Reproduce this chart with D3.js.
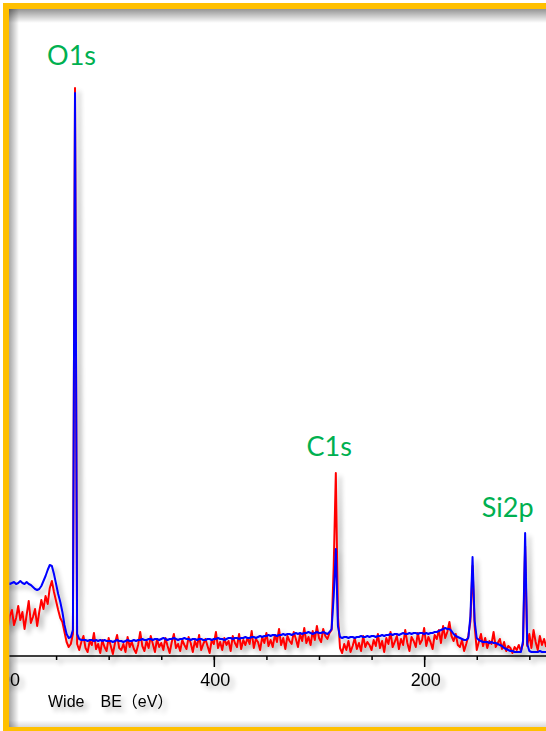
<!DOCTYPE html>
<html><head><meta charset="utf-8">
<script src="https://cdn.jsdelivr.net/npm/d3@7/dist/d3.min.js"></script>
<style>html,body{margin:0;padding:0;background:#fff;overflow:hidden}</style>
</head><body><div id="chart"></div>
<script>
// Binding energy grid (eV), descending
const beStart = 606, beStep = 2;
// Red spectrum intensities (arb. units), rows of 10 points
const redCounts = [
  42,30,48,35,52,28,40,46,31,38,
  50,36,44,27,41,55,33,39,47,30,
  44,56,47,60,52,68,75,64,55,46,
  38,34,24,14,9,12,22,568,12,6,
  14,20,8,4,15,11,23,7,12,3,
  16,9,5,18,10,2,13,21,8,6,
  12,4,19,9,14,7,3,11,24,10,
  5,15,8,20,12,4,17,9,13,6,
  18,10,3,14,22,8,12,5,16,11,
  7,19,13,4,15,9,21,6,12,17,
  10,3,16,12,24,8,14,6,18,11,
  15,5,20,13,9,22,7,16,11,18,
  12,25,8,17,14,6,19,13,23,10,
  16,9,21,14,27,11,18,7,20,15,
  12,24,17,9,22,15,28,13,19,11,
  25,16,30,18,14,27,20,17,23,26,
  90,183,40,8,3,12,6,15,4,10,
  18,7,13,5,20,9,14,11,6,16,
  10,22,8,15,4,18,12,24,9,14,
  20,7,17,11,26,13,5,19,15,9,
  23,12,16,28,10,19,14,7,21,17,
  26,13,30,18,24,34,20,15,22,11,
  9,16,5,12,20,35,90,30,6,14,
  22,10,18,8,15,12,24,9,13,17,
  7,14,5,10,8,3,9,6,11,5,
  12,110,10,22,8,26,14,6,20,11,
  17,9
];
// Blue spectrum intensities (arb. units), rows of 10 points
const blueCounts = [
  73,73,72,73,74,73,72,73,74,72,
  73,75,73,72,74,72,71,69,67,66,
  67,70,75,80,86,91,90,82,72,62,
  54,44,31,22,18,19,26,563,22,17,
  16,16,16,15,16,16,15,16,15,16,
  15,16,15,15,15,14,15,16,15,15,
  14,15,16,15,15,16,15,16,16,17,
  16,16,17,17,16,17,17,16,17,18,
  17,16,17,17,18,17,16,17,17,18,
  17,17,16,17,17,16,17,17,16,16,
  17,17,16,17,17,18,17,17,16,17,
  18,18,17,18,18,17,18,18,19,18,
  18,19,19,18,19,20,19,20,20,21,
  20,21,21,20,21,21,22,21,22,22,
  21,22,23,22,23,22,23,23,24,23,
  22,23,24,23,23,24,23,22,24,27,
  60,107,30,19,18,19,19,18,19,19,
  18,19,19,20,19,19,20,19,20,20,
  19,20,20,21,20,21,21,22,21,22,
  22,21,22,23,22,22,23,22,23,23,
  22,23,23,22,23,22,23,23,24,24,
  25,26,27,28,27,27,25,22,20,19,
  18,17,16,16,18,40,99,35,18,16,
  15,14,14,14,13,14,13,13,12,11,
  10,8,7,6,5,5,4,4,4,4,
  15,123,12,5,4,4,4,4,5,4,
  4,4
];
const majorTicks = [600, 400, 200];
const minorTicks = [600, 550, 500, 450, 400, 350, 300, 250, 200, 150, 100];
const peakNames = ["O1s", "C1s", "Si2p"];
const peakBE = [532, 284, 104];
const axisTitle = "Wide\u3000BE\uFF08eV\uFF09";

const W = 546, H = 731;
const svg = d3.select("#chart").append("svg").attr("width", W).attr("height", H);
const defs = svg.append("defs");

// drop shadow
const f = defs.append("filter").attr("id", "sh").attr("filterUnits", "userSpaceOnUse")
  .attr("x", 0).attr("y", 0).attr("width", W).attr("height", H);
f.append("feGaussianBlur").attr("in", "SourceAlpha").attr("stdDeviation", 2.5).attr("result", "b");
f.append("feOffset").attr("in", "b").attr("dx", 4).attr("dy", 4).attr("result", "o");
f.append("feComponentTransfer").attr("in", "o").attr("result", "s")
  .append("feFuncA").attr("type", "linear").attr("slope", 0.3);
const fm = f.append("feMerge");
fm.append("feMergeNode").attr("in", "s");
fm.append("feMergeNode").attr("in", "SourceGraphic");

function grad(id, x1, y1, x2, y2, a0, a1) {
  const g = defs.append("linearGradient").attr("id", id)
    .attr("x1", x1).attr("y1", y1).attr("x2", x2).attr("y2", y2);
  g.append("stop").attr("offset", "0").attr("stop-color", "#000").attr("stop-opacity", a0);
  g.append("stop").attr("offset", "1").attr("stop-color", "#000").attr("stop-opacity", a1);
}
grad("gTop", 0, 0, 0, 1, 0.42, 0);
grad("gLeft", 0, 0, 1, 0, 0.35, 0);
grad("gBot", 0, 0, 0, 1, 0, 0.15);

defs.append("clipPath").attr("id", "plotClip").append("rect")
  .attr("x", 9.5).attr("y", 9).attr("width", W - 9.5).attr("height", 718);

svg.append("rect").attr("width", W).attr("height", H).attr("fill", "#fff");

// inner shadows of the frame
svg.append("rect").attr("x", 9).attr("y", 9).attr("width", W - 9).attr("height", 14).attr("fill", "url(#gTop)");
svg.append("rect").attr("x", 9).attr("y", 9).attr("width", 10).attr("height", 718).attr("fill", "url(#gLeft)");
svg.append("rect").attr("x", 9).attr("y", 720).attr("width", W - 9).attr("height", 7).attr("fill", "url(#gBot)");

const x = d3.scaleLinear().domain([600, 0]).range([3.5, 634.5]);
const y = d3.scaleLinear().domain([0, 570]).range([656, 86]);

const toPts = arr => arr.map((v, i) => ({ be: beStart - i * beStep, v }));
const line = d3.line().x(d => x(d.be)).y(d => y(d.v));

const plot = svg.append("g").attr("clip-path", "url(#plotClip)");
const lines = plot.append("g").attr("filter", "url(#sh)");
lines.append("path").datum(toPts(redCounts)).attr("d", line)
  .attr("fill", "none").attr("stroke", "#ff0000").attr("stroke-width", 2).attr("stroke-linejoin", "round");
lines.append("path").datum(toPts(blueCounts)).attr("d", line)
  .attr("fill", "none").attr("stroke", "#0000ff").attr("stroke-width", 2).attr("stroke-linejoin", "round");

// axis
const axWrap = svg.append("g").attr("clip-path", "url(#plotClip)");
const axG = axWrap.append("g").attr("filter", "url(#sh)");
const ax = axG.append("g").attr("transform", `translate(0,${y(0)})`)
  .call(d3.axisBottom(x).tickValues(majorTicks).tickSize(11).tickSizeOuter(0).tickFormat(d3.format("d")));
ax.select(".domain").remove();
ax.selectAll(".tick line").attr("stroke", "#000").attr("stroke-width", 1.5);
ax.selectAll(".tick text").attr("x", 1).attr("y", 30).attr("dy", 0).attr("fill", "#000")
  .style("font-family", "'Liberation Sans', Arial, sans-serif").style("font-size", "18px");
const axm = axG.append("g").attr("transform", `translate(0,${y(0)})`)
  .call(d3.axisBottom(x).tickValues(minorTicks).tickSize(4).tickSizeOuter(0).tickFormat(""));
axm.select(".domain").remove();
axm.selectAll(".tick line").attr("stroke", "#000").attr("stroke-width", 1.5);
axG.append("line").attr("x1", 9).attr("x2", W).attr("y1", y(0)).attr("y2", y(0))
  .attr("stroke", "#000").attr("stroke-width", 1.5);
axG.append("text").attr("x", 48).attr("y", 707).text(axisTitle)
  .attr("fill", "#000").style("font-family", "'Liberation Sans', 'Noto Sans CJK JP', sans-serif").style("font-size", "16px");

// peak labels
const labelOffsets = [[-3.5, -23], [-6.6, -17], [-17.5, -16]];
peakNames.forEach((name, k) => {
  const i = Math.round((beStart - peakBE[k]) / beStep);
  const top = Math.max(redCounts[i], blueCounts[i]);
  svg.append("text").attr("x", x(peakBE[k]) + labelOffsets[k][0]).attr("y", y(top) + labelOffsets[k][1])
    .attr("text-anchor", "middle").attr("fill", "#00b050")
    .style("font-family", "Lato, 'Open Sans', sans-serif").style("font-size", "27px").text(name);
});

// gold frame
svg.append("rect").attr("x", 6).attr("y", 6).attr("width", 620).attr("height", 724)
  .attr("fill", "none").attr("stroke", "#ffc000").attr("stroke-width", 6);
</script>
</body></html>
